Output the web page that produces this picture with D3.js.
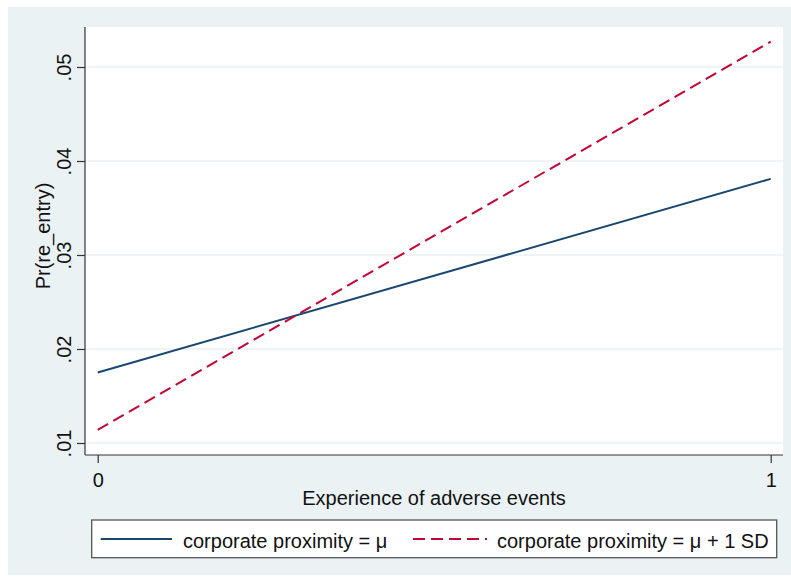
<!DOCTYPE html>
<html>
<head>
<meta charset="utf-8">
<script src="https://cdn.jsdelivr.net/npm/d3@7"></script>
<style>
html,body{margin:0;padding:0;background:#fff;}
svg{display:block;font-family:"Liberation Sans",Arial,sans-serif;}
</style>
</head>
<body>
<svg id="chart" width="791" height="581"></svg>
<script>
const xValues = [0, 1];
const seriesNames = ["corporate proximity = μ", "corporate proximity = μ + 1 SD"];
const seriesMean = [0.0175, 0.0381];
const seriesPlusSD = [0.0114, 0.0527];
const yTicks = [0.01, 0.02, 0.03, 0.04, 0.05];
const yTickLabels = [".01", ".02", ".03", ".04", ".05"];
const xTicks = [0, 1];
const xTickLabels = ["0", "1"];
const xTitle = "Experience of adverse events";
const yTitle = "Pr(re_entry)";

const svg = d3.select("#chart");
const bgCol = "#eaf2f3";
svg.append("rect").attr("x", 8).attr("y", 7).attr("width", 791 - 8).attr("height", 575 - 7).attr("fill", bgCol);

const plot = {left: 85, right: 783, top: 27, bottom: 455};
svg.append("rect").attr("x", plot.left).attr("y", plot.top)
  .attr("width", plot.right - plot.left).attr("height", plot.bottom - plot.top).attr("fill", "#fff");

const x = d3.scaleLinear().domain([0, 1]).range([97.7, 770.7]);
const y = d3.scaleLinear().domain([0.01, 0.05]).range([443, 67]);

// gridlines
svg.append("g").selectAll("line").data(yTicks).join("line")
  .attr("x1", plot.left).attr("x2", plot.right)
  .attr("y1", d => y(d)).attr("y2", d => y(d))
  .attr("stroke", bgCol).attr("stroke-width", 1.4);

// series
const series = [
  {name: seriesNames[0], values: seriesMean, color: "#1a476f", dash: null},
  {name: seriesNames[1], values: seriesPlusSD, color: "#c10534", dash: "12,6"}
];
const line = d3.line().x(d => x(d[0])).y(d => y(d[1]));
series.forEach(s => {
  svg.append("path")
    .datum(xValues.map((v, i) => [v, s.values[i]]))
    .attr("d", line).attr("fill", "none")
    .attr("stroke", s.color).attr("stroke-width", 2)
    .attr("stroke-dasharray", s.dash);
});

// y axis
const yAxis = d3.axisLeft(y).tickValues(yTicks).tickFormat((d, i) => yTickLabels[i]).tickSize(8).tickPadding(6);
const gy = svg.append("g").attr("transform", `translate(${plot.left},0)`).call(yAxis);
gy.select(".domain").attr("d", `M0,${plot.top}V${plot.bottom}`).attr("stroke", "#333").attr("stroke-width", 1.2);
gy.selectAll(".tick line").attr("stroke", "#333").attr("stroke-width", 1.2);
gy.selectAll(".tick text")
  .attr("transform", "rotate(-90)")
  .attr("x", 0).attr("y", -14).attr("dy", null)
  .attr("text-anchor", "middle")
  .attr("font-size", 20).attr("fill", "#111")
  .attr("font-family", "Liberation Sans, Arial, sans-serif");

// x axis
const xAxis = d3.axisBottom(x).tickValues(xTicks).tickFormat((d, i) => xTickLabels[i]).tickSize(8).tickPadding(6);
const gx = svg.append("g").attr("transform", `translate(0,${plot.bottom})`).call(xAxis);
gx.select(".domain").attr("d", `M${plot.left},0H${plot.right}`).attr("stroke", "#333").attr("stroke-width", 1.2);
gx.selectAll(".tick line").attr("stroke", "#333").attr("stroke-width", 1.2);
gx.selectAll(".tick text")
  .attr("y", 31.5).attr("dy", null)
  .attr("font-size", 20).attr("fill", "#111")
  .attr("font-family", "Liberation Sans, Arial, sans-serif");

// titles
svg.append("text").attr("x", 434).attr("y", 504.5).attr("text-anchor", "middle")
  .attr("font-size", 20).attr("fill", "#111").text(xTitle);
svg.append("text").attr("transform", "translate(50,236) rotate(-90)").attr("text-anchor", "middle")
  .attr("font-size", 20).attr("fill", "#111").text(yTitle);

// legend
svg.append("rect").attr("x", 91.7).attr("y", 520).attr("width", 776.7 - 91.7).attr("height", 37.7)
  .attr("fill", "#fff").attr("stroke", "#555").attr("stroke-width", 1.3);
const legendItems = [
  {s: series[0], x0: 100.7, x1: 172, tx: 183},
  {s: series[1], x0: 413, x1: 487, tx: 497}
];
legendItems.forEach(li => {
  svg.append("line").attr("x1", li.x0).attr("x2", li.x1).attr("y1", 539).attr("y2", 539)
    .attr("stroke", li.s.color).attr("stroke-width", 2).attr("stroke-dasharray", li.s.dash);
  svg.append("text").attr("x", li.tx).attr("y", 547.5).attr("font-size", 20).attr("fill", "#111").text(li.s.name);
});
</script>
</body>
</html>
